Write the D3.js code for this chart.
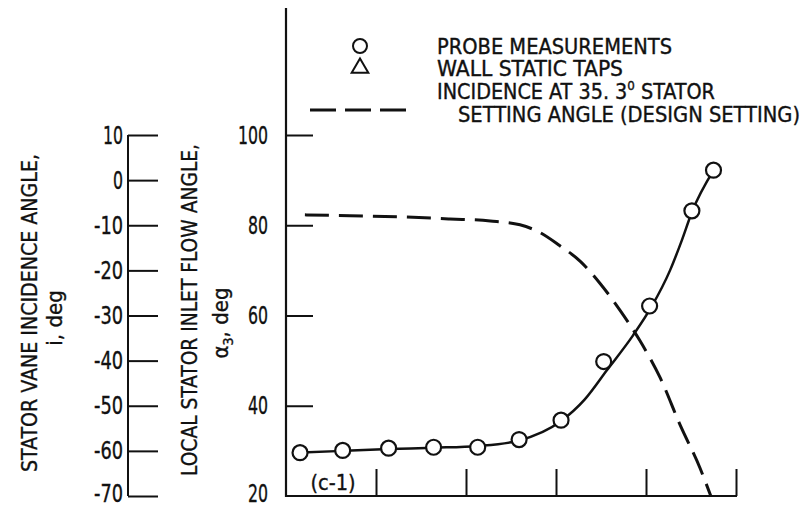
<!DOCTYPE html>
<html><head><meta charset="utf-8">
<script src="https://cdn.jsdelivr.net/npm/d3@7/dist/d3.min.js"></script>
<style>
html,body{margin:0;padding:0;background:#fff;}
svg{display:block;}
text{font-family:"DejaVu Sans Condensed","Liberation Sans Narrow","Liberation Sans",sans-serif;font-stretch:condensed;fill:#111;stroke:#111;stroke-width:0.35px;}
</style></head>
<body>
<svg id="chart" width="805" height="508"></svg>
<script>
// ---- data (x in tick units along the unlabeled abscissa, y in deg) ----
const probeX = [0.156, 0.63, 1.14, 1.64, 2.13, 2.59, 3.056, 3.53, 4.04, 4.51, 4.75];
const probeY = [29.6, 30.1, 30.6, 30.8, 30.8, 32.5, 36.8, 49.8, 62.1, 83.2, 92.2];
const fitX = [0.156, 0.633, 1.144, 1.644, 2.133, 2.589, 3.056, 3.32, 3.567, 3.856, 4.063, 4.267, 4.397, 4.514, 4.748];
const fitY = [29.6, 30.0, 30.4, 30.7, 31.1, 32.3, 36.6, 41.4, 47.9, 55.6, 62.0, 70.0, 76.6, 83.1, 92.1];
const designX = [0.21, 0.71, 1.27, 1.82, 2.27, 2.6, 2.82, 3.04, 3.27, 3.49, 3.71, 3.93, 4.16, 4.38, 4.6, 4.72];
const designY = [82.3, 82.1, 81.85, 81.4, 80.96, 80.1, 78.4, 75.5, 72.0, 67.1, 61.2, 54.5, 46.1, 35.7, 26.2, 20.0];
const flowTicks = [20, 40, 60, 80, 100];
const incidenceTicks = [10, 0, -10, -20, -30, -40, -50, -60, -70];
const xTicks = [0, 1, 2, 3, 4, 5];
const legendLabels = ["PROBE MEASUREMENTS", "WALL STATIC TAPS", "INCIDENCE AT 35. 3", "SETTING ANGLE (DESIGN SETTING)"];

const svg = d3.select("#chart");
const ink = "#111";

const x = d3.scaleLinear().domain([0, 5]).range([286, 736]);
const y = d3.scaleLinear().domain([20, 100]).range([496, 135]);
const yi = d3.scaleLinear().domain([-70, 10]).range([496, 135]);

// width of a condensed tick label
const labelW = d => String(Math.abs(d)).length * 10 + (d < 0 ? 9 : 0);
// baseline of a tick label (lowest one nudged up to stay inside the frame)
const labelBase = py => Math.min(py + 8.5, 502);

// main vertical axis (extends above top tick)
svg.append("line").attr("x1", 286).attr("x2", 286).attr("y1", 8).attr("y2", 497)
  .attr("stroke", ink).attr("stroke-width", 2.2);
const gy = svg.append("g").attr("transform", "translate(286,0)")
  .call(d3.axisRight(y).tickValues(flowTicks.filter(d => d > 20)).tickSize(27).tickFormat(""));
gy.select(".domain").remove();
gy.selectAll("line").attr("stroke", ink).attr("stroke-width", 2);
svg.append("g").selectAll("text").data(flowTicks).join("text")
  .attr("x", 268).attr("y", d => labelBase(y(d)))
  .attr("text-anchor", "end").attr("font-size", 24)
  .attr("textLength", labelW).attr("lengthAdjust", "spacingAndGlyphs").text(d => d);

// bottom axis
const gx = svg.append("g").attr("transform", "translate(0,496)")
  .call(d3.axisTop(x).tickValues(xTicks.filter(d => d > 0)).tickSize(27).tickFormat(""));
gx.select(".domain").remove();
gx.selectAll("line").attr("stroke", ink).attr("stroke-width", 2);
svg.append("line").attr("x1", 285).attr("x2", 737).attr("y1", 496).attr("y2", 496)
  .attr("stroke", ink).attr("stroke-width", 2.2);

// incidence axis
const gi = svg.append("g").attr("transform", "translate(128,0)")
  .call(d3.axisRight(yi).tickValues(incidenceTicks).tickSize(30).tickFormat(""));
gi.select(".domain").attr("d", `M0,${yi(10)}V${yi(-70)}`).attr("stroke", ink).attr("stroke-width", 2);
gi.selectAll("line").attr("stroke", ink).attr("stroke-width", 2);
svg.append("g").selectAll("text").data(incidenceTicks).join("text")
  .attr("x", 123).attr("y", d => labelBase(yi(d)))
  .attr("text-anchor", "end").attr("font-size", 24)
  .attr("textLength", labelW).attr("lengthAdjust", "spacingAndGlyphs").text(d => d);

// axis titles
svg.append("text").attr("transform", "translate(37,313) rotate(-90)")
  .attr("text-anchor", "middle").attr("font-size", 22)
  .attr("textLength", 318).attr("lengthAdjust", "spacingAndGlyphs")
  .text("STATOR VANE INCIDENCE ANGLE,");
svg.append("text").attr("transform", "translate(62,318) rotate(-90)")
  .attr("text-anchor", "middle").attr("font-size", 22).text("i, deg");
svg.append("text").attr("transform", "translate(197,310) rotate(-90)")
  .attr("text-anchor", "middle").attr("font-size", 22)
  .attr("textLength", 332).attr("lengthAdjust", "spacingAndGlyphs")
  .text("LOCAL STATOR INLET FLOW ANGLE,");
const t4 = svg.append("text").attr("transform", "translate(228,323) rotate(-90)")
  .attr("text-anchor", "middle").attr("font-size", 22);
t4.append("tspan").text("α");
t4.append("tspan").attr("font-size", 14).attr("dy", 5).text("3");
t4.append("tspan").attr("dy", -5).text(", deg");

// design-setting incidence curve (dashed)
const line = d3.line().x(d => x(d[0])).y(d => y(d[1])).curve(d3.curveMonotoneX);
svg.append("path").datum(d3.zip(designX, designY)).attr("d", line)
  .attr("fill", "none").attr("stroke", ink).attr("stroke-width", 3)
  .attr("stroke-dasharray", "24 10");

// faired curve through probe data
svg.append("path").datum(d3.zip(fitX, fitY)).attr("d", line)
  .attr("fill", "none").attr("stroke", ink).attr("stroke-width", 2.5);

// probe measurements
svg.append("g").selectAll("circle").data(d3.zip(probeX, probeY)).join("circle")
  .attr("cx", d => x(d[0])).attr("cy", d => y(d[1])).attr("r", 7.5)
  .attr("fill", "#fff").attr("stroke", ink).attr("stroke-width", 2.2);

// panel label
svg.append("text").attr("x", 333).attr("y", 490).attr("text-anchor", "middle")
  .attr("font-size", 22).attr("textLength", 45).attr("lengthAdjust", "spacingAndGlyphs").text("(c-1)");

// legend
svg.append("circle").attr("cx", 360).attr("cy", 46).attr("r", 7)
  .attr("fill", "#fff").attr("stroke", ink).attr("stroke-width", 2);
svg.append("path").attr("d", d3.symbol(d3.symbolTriangle, 120)()).attr("transform", "translate(360,68)")
  .attr("fill", "#fff").attr("stroke", ink).attr("stroke-width", 2);
svg.append("line").attr("x1", 310).attr("x2", 412).attr("y1", 110).attr("y2", 110)
  .attr("stroke", ink).attr("stroke-width", 3).attr("stroke-dasharray", "26 9");
const lgX = [437, 437, 437, 458];
const lgY = [54, 76, 99, 122];
const lgW = [235, 186, 278, 342];
legendLabels.forEach((s, i) => {
  const t = svg.append("text").attr("x", lgX[i]).attr("y", lgY[i]).attr("font-size", 21)
    .attr("textLength", lgW[i]).attr("lengthAdjust", "spacingAndGlyphs").text(s);
  if (i === 2) {
    t.append("tspan").attr("font-size", 13).attr("dy", -9).text("0");
    t.append("tspan").attr("dy", 9).text(" STATOR");
  }
});
</script>
</body></html>
